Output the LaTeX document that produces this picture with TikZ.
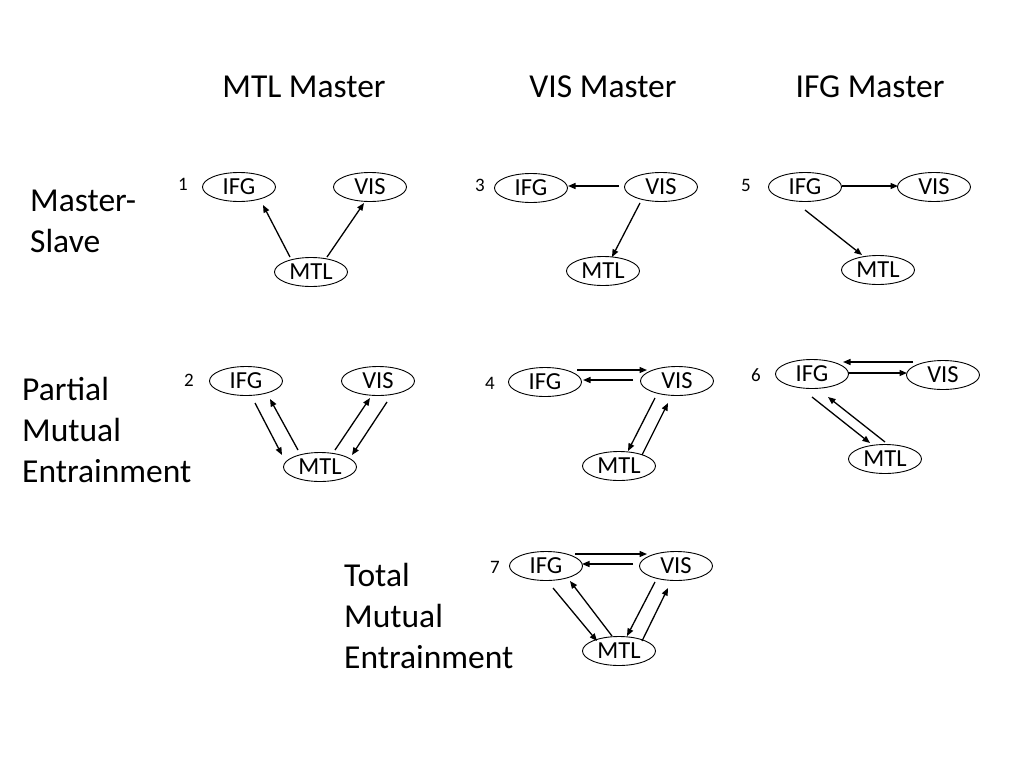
\documentclass[tikz,border=0pt]{standalone}
\usepackage{fontspec}
\setmainfont{Carlito}
\usetikzlibrary{arrows.meta,calc,shapes.geometric}
\begin{document}
\begin{tikzpicture}[x=1pt,y=-1pt,
  roi/.style={draw, ellipse, line width=0.9pt, minimum width=73pt, minimum height=29pt, inner sep=0pt,
    font=\fontsize{24.5}{28}\selectfont, text height=15.5pt, text depth=0pt},
  arr/.style={-{Triangle[length=7.5pt,width=6pt]}, line width=1.3pt},
  num/.style={anchor=base, font=\fontsize{19}{22}\selectfont, inner sep=0pt},
  head/.style={anchor=base, font=\fontsize{33.5}{41}\selectfont, inner sep=0pt},
  rowlab/.style={anchor=base west, font=\fontsize{33.5}{41}\selectfont, inner sep=0pt}]
\fill[white] (0,0) rectangle (1024,768);
\useasboundingbox (0,0) rectangle (1024,768);

% headers
\node[head] (h1) at (304,97) {MTL Master};
\node[head] (h2) at (603,97) {VIS Master};
\node[head] (h3) at (870,97) {IFG Master};

% row labels
\node[rowlab] (r1) at (30,211) {\parbox[t]{300pt}{\raggedright Master-\\Slave}};
\node[rowlab] (r2) at (22,400) {\parbox[t]{300pt}{\raggedright Partial\\Mutual\\Entrainment}};
\node[rowlab] (r3) at (344,586) {\parbox[t]{300pt}{\raggedright Total\\Mutual\\Entrainment}};

% diagram 1
\node[num] (n1) at (183,190) {1};
\node[roi] (i1) at (239,187) {IFG};
\node[roi] (v1) at (370,187) {VIS};
\node[roi] (m1) at (311,272) {MTL};
\draw[arr] ($(m1)+(-21,-15)$) -- ($(i1)+(24,18)$);
\draw[arr] ($(m1)+(16,-15)$) -- ($(v1)+(-6,16)$);

% diagram 3
\node[num] (n3) at (480,191) {3};
\node[roi] (i3) at (531,188) {IFG};
\node[roi] (v3) at (661,187) {VIS};
\node[roi] (m3) at (603,271) {MTL};
\draw[arr] ($(v3)+(-42,-1)$) -- ($(i3)+(37,-2)$);
\draw[arr] ($(v3)+(-21,16)$) -- ($(m3)+(9,-14)$);

% diagram 5
\node[num] (n5) at (746,191) {5};
\node[roi] (i5) at (805,187) {IFG};
\node[roi] (v5) at (934,187) {VIS};
\node[roi] (m5) at (878,270) {MTL};
\draw[arr] ($(i5)+(37,-1)$) -- ($(v5)+(-36,-1)$);
\draw[arr] ($(i5)+(0,23)$) -- ($(m5)+(-16,-15)$);

% diagram 2
\node[num] (n2) at (189,386) {2};
\node[roi] (i2) at (246,381) {IFG};
\node[roi] (v2) at (378,381) {VIS};
\node[roi] (m2) at (320,467) {MTL};
\draw[arr] ($(i2)+(9,22)$) -- ($(m2)+(-38,-12)$);
\draw[arr] ($(m2)+(-22,-17)$) -- ($(i2)+(24,18)$);
\draw[arr] ($(m2)+(15,-17)$) -- ($(v2)+(-8,17)$);
\draw[arr] ($(v2)+(9,21)$) -- ($(m2)+(32,-12)$);

% diagram 4
\node[num] (n4) at (490,389) {4};
\node[roi] (i4) at (545,382) {IFG};
\node[roi] (v4) at (677,381) {VIS};
\node[roi] (m4) at (619,466) {MTL};
\draw[arr] ($(i4)+(32,-12)$) -- ($(v4)+(-30,-11)$);
\draw[arr] ($(v4)+(-44,-1)$) -- ($(i4)+(38,-2)$);
\draw[arr] ($(v4)+(-22,17)$) -- ($(m4)+(9,-15)$);
\draw[arr] ($(m4)+(23,-11)$) -- ($(v4)+(-9,22)$);

% diagram 6
\node[num] (n6) at (756,381) {6};
\node[roi] (i6) at (812,374) {IFG};
\node[roi] (v6) at (943,375) {VIS};
\node[roi] (m6) at (885,459) {MTL};
\draw[arr] ($(v6)+(-30,-13)$) -- ($(i6)+(31,-12)$);
\draw[arr] ($(i6)+(36,-1)$) -- ($(v6)+(-36,-2)$);
\draw[arr] ($(i6)+(0,23)$) -- ($(m6)+(-15,-16)$);
\draw[arr] ($(m6)+(0,-17)$) -- ($(i6)+(16,23)$);

% diagram 7
\node[num] (n7) at (495,573) {7};
\node[roi] (i7) at (546,566) {IFG};
\node[roi] (v7) at (676,566) {VIS};
\node[roi] (m7) at (619,651) {MTL};
\draw[arr] ($(i7)+(29,-12)$) -- ($(v7)+(-29,-12)$);
\draw[arr] ($(v7)+(-43,-2)$) -- ($(i7)+(36,-2)$);
\draw[arr] ($(i7)+(7,22)$) -- ($(m7)+(-22,-10)$);
\draw[arr] ($(m7)+(-7,-15)$) -- ($(i7)+(24,15)$);
\draw[arr] ($(v7)+(-21,16)$) -- ($(m7)+(8,-15)$);
\draw[arr] ($(m7)+(23,-10)$) -- ($(v7)+(-8,22)$);
\end{tikzpicture}
\end{document}
